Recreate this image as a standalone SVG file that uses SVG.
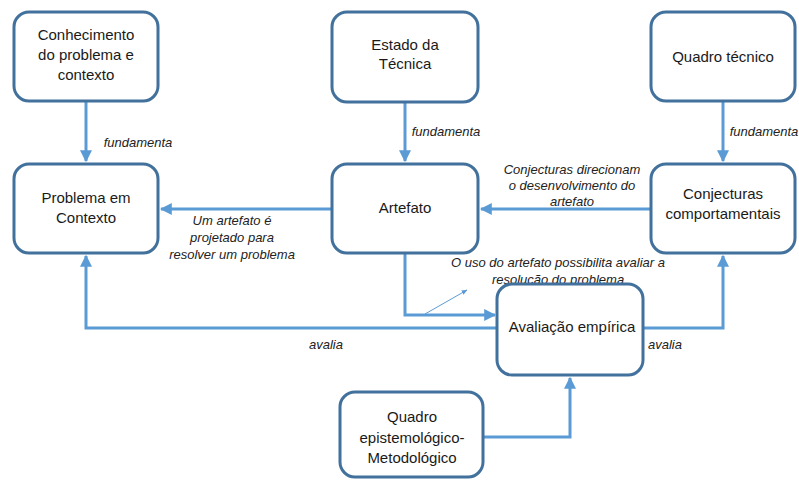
<svg xmlns="http://www.w3.org/2000/svg" width="799" height="480" viewBox="0 0 799 480">
<defs>
<style>
.box{fill:#fff;stroke:#41719C;stroke-width:3}
.t{font-family:"Liberation Sans",Arial,sans-serif;font-size:15px;fill:#1a1a1a;text-anchor:middle}
.l{font-family:"Liberation Sans",Arial,sans-serif;font-size:13px;font-style:italic;fill:#222;text-anchor:middle}
.c{fill:none;stroke:#5B9BD5;stroke-width:3}
.thin{fill:none;stroke:#5B9BD5;stroke-width:1}
</style>
<marker id="ah" viewBox="0 0 10 10" refX="9" refY="5" markerWidth="4" markerHeight="4" orient="auto" markerUnits="strokeWidth">
<path d="M0,0 L10,5 L0,10 Z" fill="#5B9BD5"/>
</marker>
<marker id="ahs" viewBox="0 0 10 10" refX="9" refY="5" markerWidth="6" markerHeight="6" orient="auto" markerUnits="strokeWidth">
<path d="M0,1 L10,5 L0,9 Z" fill="#5B9BD5"/>
</marker>
</defs>
<rect width="799" height="480" fill="#fff"/>
<g id="connectors">
<path class="c" d="M86,102 V161" marker-end="url(#ah)"/>
<path class="c" d="M405,103 V161" marker-end="url(#ah)"/>
<path class="c" d="M723,102 V161" marker-end="url(#ah)"/>
<path class="c" d="M332,209 H161" marker-end="url(#ah)"/>
<path class="c" d="M650,209 H481" marker-end="url(#ah)"/>
<path class="c" d="M405,254 V315 H495" marker-end="url(#ah)"/>
<path class="c" d="M497,328 H86 V256" marker-end="url(#ah)"/>
<path class="c" d="M643,328 H723 V256" marker-end="url(#ah)"/>
<path class="c" d="M483,437 H570 V378" marker-end="url(#ah)"/>
<path class="thin" d="M425,314 L467,290" marker-end="url(#ahs)"/>
<text class="l" x="138" y="147">fundamenta</text>
<text class="l" x="446" y="136">fundamenta</text>
<text class="l" x="764" y="136">fundamenta</text>
<text class="l" x="232" y="225">Um artefato é</text>
<text class="l" x="232" y="242">projetado para</text>
<text class="l" x="232" y="259">resolver um problema</text>
<text class="l" x="572" y="174">Conjecturas direcionam</text>
<text class="l" x="572" y="190">o desenvolvimento do</text>
<text class="l" x="572" y="206">artefato</text>
<text class="l" x="558" y="267">O uso do artefato possibilita avaliar a</text>
<text class="l" x="558" y="284">resolução do problema</text>
<text class="l" x="326" y="349">avalia</text>
<text class="l" x="665" y="349">avalia</text>
</g>
<g id="n-conhecimento">
<rect class="box" x="14" y="12" width="144" height="89" rx="15"/>
<text class="t" x="86" y="40">Conhecimento</text>
<text class="t" x="86" y="60">do problema e</text>
<text class="t" x="86" y="80">contexto</text>
</g>
<g id="n-estado">
<rect class="box" x="332" y="12" width="146" height="90" rx="15"/>
<text class="t" x="405" y="50">Estado da</text>
<text class="t" x="405" y="69">Técnica</text>
</g>
<g id="n-quadro-tecnico">
<rect class="box" x="651" y="12" width="144" height="89" rx="15"/>
<text class="t" x="723" y="62">Quadro técnico</text>
</g>
<g id="n-problema">
<rect class="box" x="14" y="164" width="144" height="89" rx="15"/>
<text class="t" x="86" y="203">Problema em</text>
<text class="t" x="86" y="223">Contexto</text>
</g>
<g id="n-artefato">
<rect class="box" x="332" y="164" width="146" height="89" rx="15"/>
<text class="t" x="405" y="213">Artefato</text>
</g>
<g id="n-conjecturas">
<rect class="box" x="651" y="164" width="144" height="89" rx="15"/>
<text class="t" x="723" y="199">Conjecturas</text>
<text class="t" x="723" y="219">comportamentais</text>
</g>
<g id="n-avaliacao">
<rect class="box" x="497" y="284" width="146" height="91" rx="15"/>
<text class="t" x="572" y="332">Avaliação empírica</text>
</g>
<g id="n-quadro-epist">
<rect class="box" x="340" y="392" width="143" height="85" rx="15"/>
<text class="t" x="412" y="422">Quadro</text>
<text class="t" x="412" y="443">epistemológico-</text>
<text class="t" x="412" y="463">Metodológico</text>
</g>
</svg>
